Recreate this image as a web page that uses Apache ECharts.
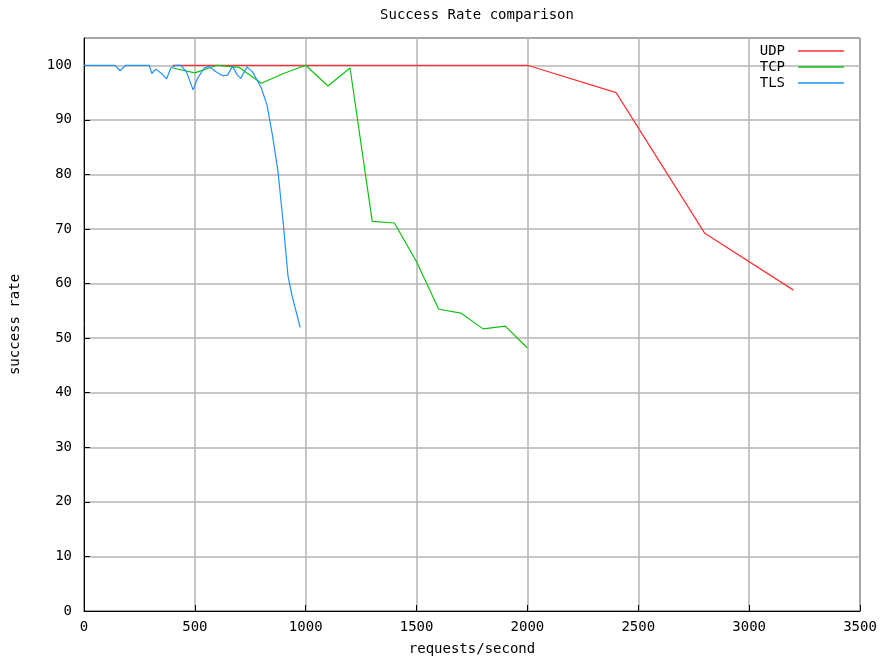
<!DOCTYPE html>
<html>
<head>
<meta charset="utf-8">
<script src="https://cdn.jsdelivr.net/npm/echarts@6/dist/echarts.min.js"></script>
<style>html,body{margin:0;padding:0;background:#fff}#c{width:891px;height:661px}</style>
</head>
<body>
<div id="c"></div>
<script>
var titleText = 'Success Rate comparison';
var xName = 'requests/second';
var yName = 'success rate';
var seriesNames = ['UDP', 'TCP', 'TLS'];

var udpX = [400, 500, 600, 700, 800, 900, 1000, 1100, 1200, 1300, 1400, 1500, 1600, 1700, 1800, 1900, 2000, 2400, 2800, 3200];
var udpY = [100, 100, 100, 100, 100, 100, 100, 100, 100, 100, 100, 100, 100, 100, 100, 100, 100, 95, 69.2, 58.8];

var tcpX = [400, 500, 600, 700, 800, 900, 1000, 1100, 1200, 1300, 1400, 1500, 1600, 1700, 1800, 1900, 2000];
var tcpY = [99.5, 98.6, 100, 99.6, 96.7, 98.5, 100, 96.2, 99.5, 71.4, 71.1, 64, 55.3, 54.6, 51.7, 52.2, 48.2];

var tlsX = [0, 140, 163, 188, 294, 306, 324, 347, 372, 392, 414, 437, 462, 492, 512, 542, 565, 595, 625, 647, 670, 692, 707, 735, 760, 782, 800, 825, 850, 875, 900, 920, 940, 975];
var tlsY = [100, 100, 99, 100, 100, 98.5, 99.3, 98.6, 97.5, 99.5, 100, 100, 98.8, 95.5, 97.6, 99.5, 99.8, 98.8, 98.1, 98.2, 99.8, 98.2, 97.6, 99.7, 98.8, 97.2, 95.8, 92.8, 87.2, 80.5, 70.5, 61.4, 57.5, 52];

var xTicks = [0, 500, 1000, 1500, 2000, 2500, 3000, 3500];
var yTicks = [0, 10, 20, 30, 40, 50, 60, 70, 80, 90, 100];

function pairs(xs, ys) { return xs.map(function (x, i) { return [x, ys[i]]; }); }

var FONT = 'DejaVu Sans Mono';
var colors = ['#ff3030', '#10c010', '#2090ff'];

var chart = echarts.init(document.getElementById('c'), null, { renderer: 'canvas' });
chart.setOption({
  backgroundColor: '#ffffff',
  animation: false,
  title: {
    text: titleText, left: 472, top: 3, textAlign: 'center',
    textStyle: { fontFamily: FONT, fontSize: 14, fontWeight: 'normal', color: '#000' }
  },
  legend: {
    orient: 'vertical', right: 42, top: 39, align: 'right',
    itemWidth: 46, itemHeight: 1.5, itemGap: 2,
    icon: 'rect',
    textStyle: { fontFamily: FONT, fontSize: 14, color: '#000', padding: [0, 8, 0, 0] },
    data: seriesNames.map(function (n, i) { return { name: n, itemStyle: { color: colors[i] } }; })
  },
  grid: { left: 83, right: 31, top: 38, bottom: 48, show: true, borderColor: '#000', borderWidth: 1 },
  xAxis: {
    type: 'value', min: xTicks[0], max: xTicks[xTicks.length - 1], interval: 500,
    name: xName, nameLocation: 'middle', nameGap: 31,
    nameTextStyle: { fontFamily: FONT, fontSize: 14, color: '#000' },
    axisLine: { lineStyle: { color: '#000', width: 1 } },
    axisTick: { inside: true, length: 6, lineStyle: { color: '#000' } },
    axisLabel: { fontFamily: FONT, fontSize: 14, color: '#000', margin: 9,
      formatter: function (v) { return String(v); } },
    splitLine: { show: true, lineStyle: { color: '#b4b4b4', width: 1.5 } }
  },
  yAxis: {
    type: 'value', min: 0, max: 105, interval: 10,
    name: yName, nameLocation: 'middle', nameGap: 62,
    nameTextStyle: { fontFamily: FONT, fontSize: 14, color: '#000' },
    axisLine: { show: true, lineStyle: { color: '#000', width: 1 } },
    axisTick: { inside: true, length: 6, lineStyle: { color: '#000' } },
    axisLabel: { fontFamily: FONT, fontSize: 14, color: '#000', margin: 12, showMaxLabel: false,
      formatter: function (v) { return yTicks.indexOf(v) >= 0 ? String(v) : ''; } },
    splitLine: { show: true, lineStyle: { color: '#b4b4b4', width: 1.5 } }
  },
  series: [
    { name: seriesNames[0], type: 'line', data: pairs(udpX, udpY), showSymbol: false, symbol: 'none', lineStyle: { color: colors[0], width: 1.2 }, itemStyle: { color: colors[0] } },
    { name: seriesNames[1], type: 'line', data: pairs(tcpX, tcpY), showSymbol: false, symbol: 'none', lineStyle: { color: colors[1], width: 1.2 }, itemStyle: { color: colors[1] } },
    { name: seriesNames[2], type: 'line', data: pairs(tlsX, tlsY), showSymbol: false, symbol: 'none', lineStyle: { color: colors[2], width: 1.2 }, itemStyle: { color: colors[2] } }
  ]
});
</script>
</body>
</html>
